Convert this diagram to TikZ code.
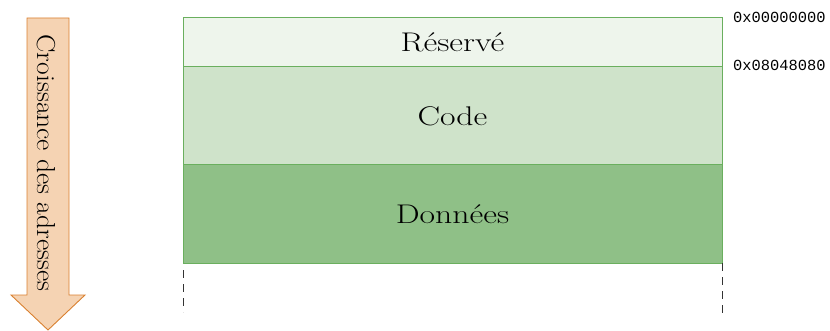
\documentclass[tikz,border=0pt]{standalone}
\usepackage{fontspec}
\newfontfamily\addrfont{Liberation Mono}
\definecolor{resfill}{HTML}{EEF5EC}
\definecolor{codefill}{HTML}{CFE3CA}
\definecolor{datafill}{HTML}{8FC087}
\definecolor{boxline}{HTML}{6AAF5E}
\definecolor{arrowfill}{HTML}{F5D3B3}
\definecolor{arrowline}{HTML}{D98030}
\newcommand{\widetext}[1]{\scalebox{1.25}[1]{#1}}
\tikzset{
  seg/.style={draw=boxline, line width=0.9pt, inner sep=0pt},
  segtext/.style={font=\fontsize{27}{32}\selectfont},
  addr/.style={font=\addrfont\fontsize{15.4}{18}\selectfont, anchor=west, inner sep=0pt},
  edge/.style={draw=black!80, line width=1pt, dash pattern=on 8pt off 6pt}
}
\begin{document}
\begin{tikzpicture}[x=1pt,y=-1pt]
\useasboundingbox (0,0) rectangle (830,331);
% arrow
\draw[arrowline, fill=arrowfill, line width=0.9pt]
  (27,18) -- (69,18) -- (69,295) -- (85,295) -- (48,330) -- (11,295) -- (27,295) -- cycle;
\node[rotate=-90, font=\fontsize{26}{30}\selectfont] (arrowtxt) at (46,163) {\scalebox{1.06}[1]{Croissance des adresses}};
% segments
\path[seg, fill=resfill] (183,17) rectangle (722,66);
\path[seg, fill=codefill] (183,66) rectangle (722,164);
\path[seg, fill=datafill] (183,164) rectangle (722,263);
\node[segtext] (res) at (452.5,42) {\widetext{Réservé}};
\node[segtext] (code) at (452.5,116) {\widetext{Code}};
\node[segtext] (data) at (452.5,214) {\widetext{Données}};
% dashed continuation
\coordinate (l1) at (183,270);
\coordinate (l2) at (183,312);
\coordinate (r1) at (722,263);
\coordinate (r2) at (722,313);
\draw[edge] (l1) -- (l2);
\draw[edge] (r1) -- (r2);
% addresses
\node[addr] (a0) at (733,17) {0x00000000};
\node[addr] (a1) at (733,65) {0x08048080};
\end{tikzpicture}
\end{document}
